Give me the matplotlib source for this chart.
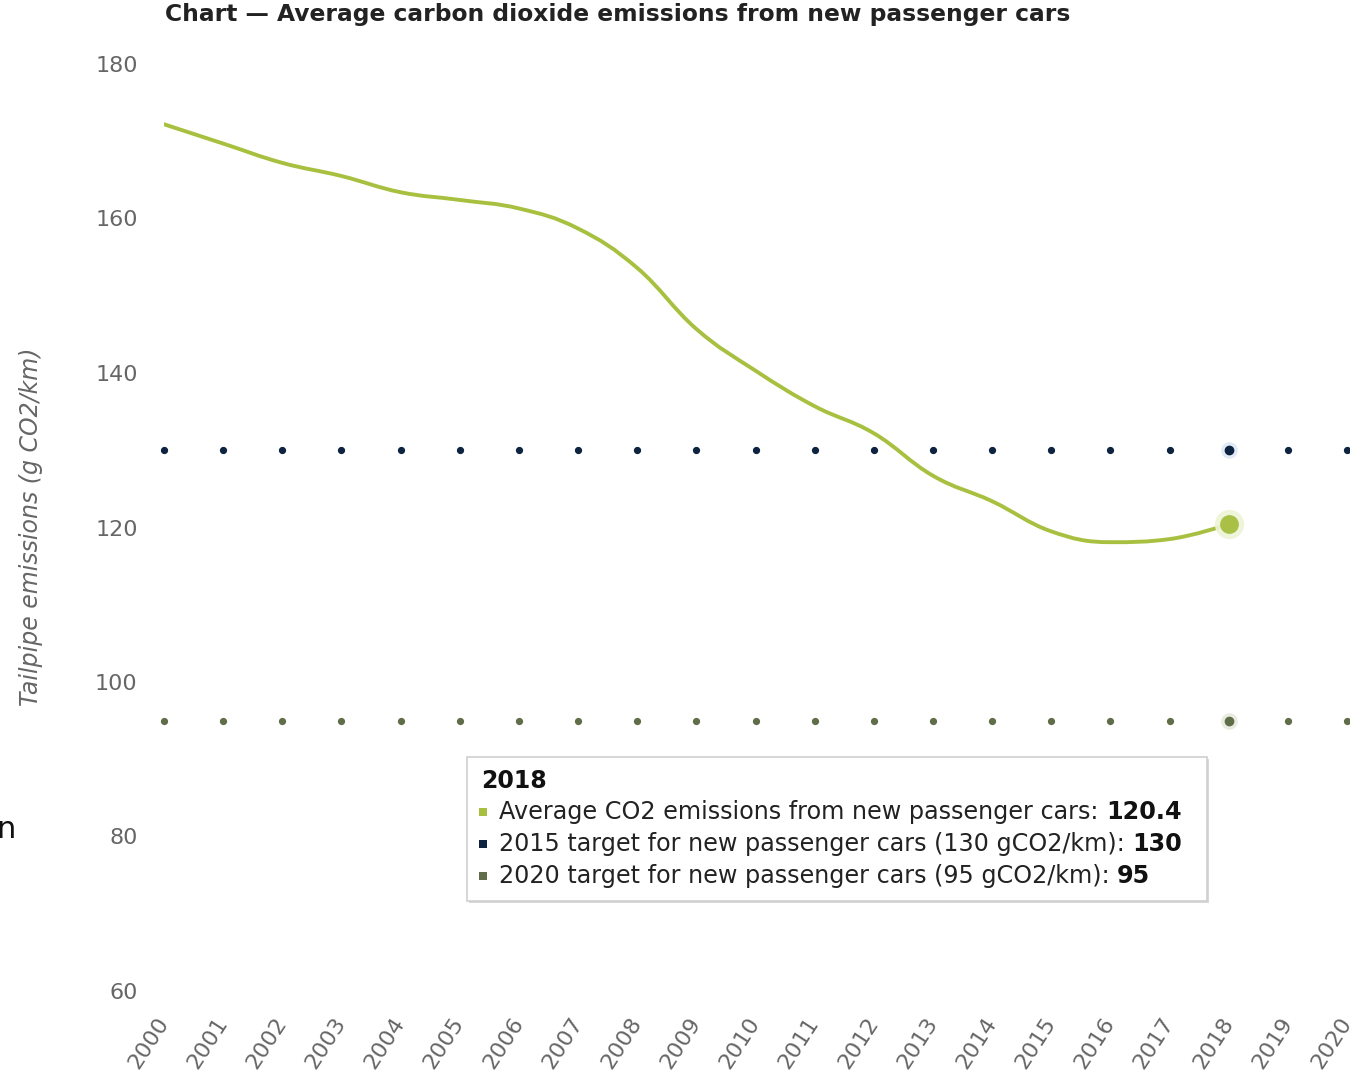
import matplotlib
matplotlib.use("Agg")
import matplotlib.pyplot as plt
from matplotlib.path import Path
from matplotlib.patches import PathPatch, Rectangle
import numpy as np

# ---------------- data ----------------
years = [2000, 2001, 2002, 2003, 2004, 2005, 2006, 2007, 2008, 2009,
         2010, 2011, 2012, 2013, 2014, 2015, 2016, 2017, 2018]
avg_co2 = [172.2, 169.7, 167.2, 165.5, 163.4, 162.4, 161.3, 158.7, 153.6, 145.7,
           140.3, 135.7, 132.2, 126.7, 123.4, 119.5, 118.1, 118.5, 120.4]
target_years = list(range(2000, 2021))
target_2015 = [130] * len(target_years)
target_2020 = [95] * len(target_years)
x_tick_labels = [str(y) for y in target_years]
y_ticks = [60, 80, 100, 120, 140, 160, 180]

title = "Chart \u2014 Average carbon dioxide emissions from new passenger cars"
ylabel = "Tailpipe emissions (g CO2/km)"
tooltip_year = "2018"
tooltip_rows = [
    ("Average CO2 emissions from new passenger cars: ", "120.4", "#a8c040"),
    ("2015 target for new passenger cars (130 gCO2/km): ", "130", "#0d2340"),
    ("2020 target for new passenger cars (95 gCO2/km): ", "95", "#5f6e48"),
]

LINE_C = "#a8c040"
T15_C = "#0d2340"
T20_C = "#5f6e48"
TICK_C = "#666666"

W, H = 1350, 1078
fig = plt.figure(figsize=(W / 100, H / 100), dpi=100)
fig.patch.set_facecolor("white")

def fx(px):
    return px / W

def fy(py):
    return 1 - py / H

ax = fig.add_axes([fx(164), fy(991), fx(1347) - fx(164), fy(64) - fy(991)])
ax.set_xlim(2000, 2020)
ax.set_ylim(60, 180)
for s in ax.spines.values():
    s.set_visible(False)
ax.set_yticks(y_ticks)
ax.set_yticklabels([str(v) for v in y_ticks])
ax.set_xticks(target_years)
ax.set_xticklabels(x_tick_labels, rotation=57, ha="right", va="center",
                   rotation_mode="anchor")
ax.tick_params(axis="both", length=0, colors=TICK_C, labelsize=16)
ax.tick_params(axis="y", pad=19)
ax.tick_params(axis="x", pad=20)
for lbl in ax.get_xticklabels():
    lbl.set_color(TICK_C)

# ---------------- smooth spline (Highcharts-like control points) -------------
def spline_path(xs, ys, smoothing=1.5):
    denom = smoothing + 1
    verts = [(xs[0], ys[0])]
    codes = [Path.MOVETO]
    n = len(xs)
    conts = []
    for i in range(n):
        if 0 < i < n - 1:
            lx, ly = xs[i - 1], ys[i - 1]
            nx, ny = xs[i + 1], ys[i + 1]
            px, py = xs[i], ys[i]
            lcx = (smoothing * px + lx) / denom
            lcy = (smoothing * py + ly) / denom
            rcx = (smoothing * px + nx) / denom
            rcy = (smoothing * py + ny) / denom
            corr = (rcy - lcy) * (rcx - px) / (rcx - lcx) + py - rcy
            lcy += corr
            rcy += corr
            if lcy > max(ly, py) or lcy < min(ly, py):
                lcy = max(ly, py) if lcy > max(ly, py) else min(ly, py)
                rcy = 2 * py - lcy
            if rcy > max(ny, py) or rcy < min(ny, py):
                rcy = max(ny, py) if rcy > max(ny, py) else min(ny, py)
                lcy = 2 * py - rcy
            conts.append(((lcx, lcy), (rcx, rcy)))
        else:
            conts.append(((xs[i], ys[i]), (xs[i], ys[i])))
    for i in range(1, n):
        verts += [conts[i - 1][1], conts[i][0], (xs[i], ys[i])]
        codes += [Path.CURVE4, Path.CURVE4, Path.CURVE4]
    return Path(verts, codes)

ax.add_patch(PathPatch(spline_path(years, avg_co2), facecolor="none",
                       edgecolor=LINE_C, lw=2.8, capstyle="round",
                       joinstyle="round", zorder=3))

# target dotted series
ax.plot(target_years, target_2015, linestyle="none", marker="o", ms=4.2,
        color=T15_C, clip_on=False, zorder=4)
ax.plot(target_years, target_2020, linestyle="none", marker="o", ms=4.2,
        color=T20_C, clip_on=False, zorder=4)

# hover highlight at 2018
hx = years[-1]
ax.plot([hx], [target_2015[target_years.index(hx)]], marker="o", ms=11,
        color="#dce8f5", alpha=0.8, linestyle="none", zorder=3.5)
ax.plot([hx], [target_2015[target_years.index(hx)]], marker="o", ms=6,
        color=T15_C, linestyle="none", zorder=5)
ax.plot([hx], [target_2020[target_years.index(hx)]], marker="o", ms=11,
        color="#e6e9dc", alpha=0.8, linestyle="none", zorder=3.5)
ax.plot([hx], [target_2020[target_years.index(hx)]], marker="o", ms=6,
        color=T20_C, linestyle="none", zorder=5)
ax.plot([hx], [avg_co2[-1]], marker="o", ms=20, color="#eef4d6", alpha=0.9,
        linestyle="none", zorder=5)
ax.plot([hx], [avg_co2[-1]], marker="o", ms=12.5, color="#a9c047",
        linestyle="none", zorder=6)

# y axis label
fig.text(fx(31), fy(527), ylabel, rotation=90, ha="center", va="center",
         fontsize=17, style="italic", color=TICK_C)

# title
fig.text(fx(165), fy(15), title, ha="left", va="center", fontsize=16.8,
         fontweight="bold", color="#222222")

# stray cropped glyph at left edge
fig.text(fx(-4), fy(830), "n", ha="left", va="center", fontsize=22,
         color="#111111")

# ---------------- tooltip ----------------
bx0, bx1, by0, by1 = 467, 1207, 757, 901
shadow = Rectangle((fx(bx0 + 2), fy(by1 + 2)), fx(bx1) - fx(bx0),
                   fy(by0) - fy(by1), transform=fig.transFigure,
                   facecolor="#d8d8d8", edgecolor="none", zorder=9)
fig.patches.append(shadow)
box = Rectangle((fx(bx0), fy(by1)), fx(bx1) - fx(bx0), fy(by0) - fy(by1),
                transform=fig.transFigure, facecolor="white",
                edgecolor="#cfcfcf", lw=1.2, zorder=10)
fig.patches.append(box)

fig.text(fx(481), fy(781), tooltip_year, ha="left", va="center", fontsize=17,
         fontweight="bold", color="#111111", zorder=11)

fig.canvas.draw()
renderer = fig.canvas.get_renderer()
row_y = [812, 844, 876]
for (label, val, col), ry in zip(tooltip_rows, row_y):
    sq = Rectangle((fx(479), fy(ry + 4)), fx(8), fy(0) - fy(8),
                   transform=fig.transFigure, facecolor=col,
                   edgecolor="none", zorder=11)
    fig.patches.append(sq)
    t = fig.text(fx(499), fy(ry), label, ha="left", va="center", fontsize=17.2,
                 color="#222222", zorder=11)
    bb = t.get_window_extent(renderer=renderer)
    fig.text(bb.x1 / W, fy(ry), val, ha="left", va="center",
             fontsize=17.2, fontweight="bold", color="#111111", zorder=11)

fig.savefig("out.png", dpi=100, facecolor="white")
